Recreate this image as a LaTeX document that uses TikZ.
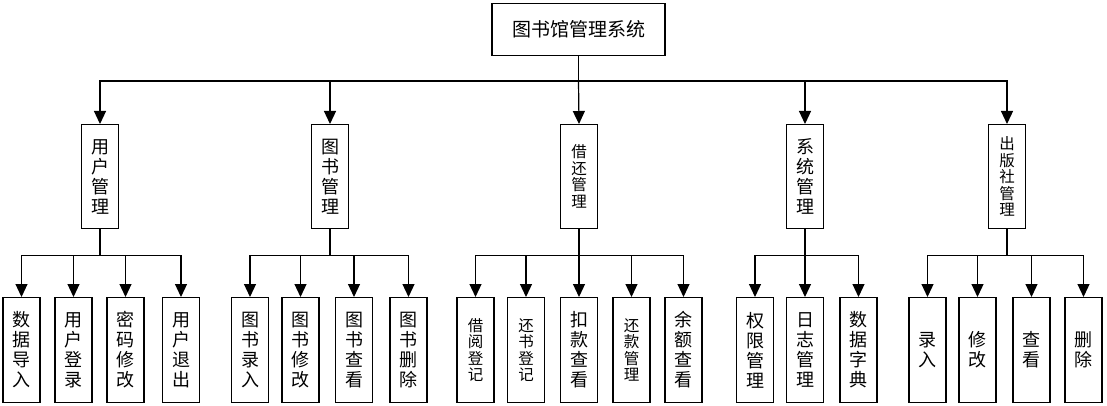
\documentclass[tikz,border=0pt]{standalone}
\usepackage{fontspec}
\setmainfont{Noto Sans CJK SC}
\usetikzlibrary{arrows.meta}
\tikzset{
  box/.style={draw,line width=1.1pt,inner sep=0pt,minimum width=37pt,align=center,anchor=north},
  midbox/.style={box,minimum height=104pt},
  leafbox/.style={box,minimum height=105pt},
  big/.style={font=\fontsize{18}{20}\selectfont},
  small/.style={font=\fontsize{15.5}{16.5}\selectfont}
}
\begin{document}
\begin{tikzpicture}[x=1pt,y=-1pt,line width=1.2pt,>={Triangle[width=12pt,length=13pt]}]
  \useasboundingbox (0,0) rectangle (1107,406);
  % top
  \node[draw,line width=1.1pt,minimum width=173pt,minimum height=52pt,inner sep=0pt,anchor=north,font=\fontsize{19}{21}\selectfont] (root) at (578.5,3) {图书馆管理系统};
  \coordinate (bus0) at (578.5,81);
  % second level
  \node[midbox,big] (user) at (100,124) {用\\户\\管\\理};
  \node[midbox,big] (book) at (330,124) {图\\书\\管\\理};
  \node[midbox,small] (lend) at (579,124) {借\\还\\管\\理};
  \node[midbox,big] (sys) at (805,124) {系\\统\\管\\理};
  \node[midbox,small] (pub) at (1007,124) {出\\版\\社\\管\\理};
  \draw (root.south) -- (bus0);
  \draw[->] (bus0) -| (user.north);
  \draw[->] (bus0) -| (book.north);
  \draw[->] (bus0) -- (lend.north);
  \draw[->] (bus0) -| (sys.north);
  \draw[->] (bus0) -| (pub.north);
  % leaves: user
  \node[leafbox,big] (u1) at (21.5,297) {数\\据\\导\\入};
  \node[leafbox,big] (u2) at (73.5,297) {用\\户\\登\\录};
  \node[leafbox,big] (u3) at (125.5,297) {密\\码\\修\\改};
  \node[leafbox,big] (u4) at (181,297) {用\\户\\退\\出};
  \draw (user.south) -- ++(0,26) coordinate (bus1);
  \foreach \n in {u1,u2,u3,u4} \draw[->] (bus1) -| (\n.north);
  % leaves: book
  \node[leafbox,big] (b1) at (250,297) {图\\书\\录\\入};
  \node[leafbox,big] (b2) at (300.5,297) {图\\书\\修\\改};
  \node[leafbox,big] (b3) at (354,297) {图\\书\\查\\看};
  \node[leafbox,big] (b4) at (408.5,297) {图\\书\\删\\除};
  \draw (book.south) -- ++(0,26) coordinate (bus2);
  \foreach \n in {b1,b2,b3,b4} \draw[->] (bus2) -| (\n.north);
  % leaves: lend
  \node[leafbox,small] (l1) at (475.5,297) {借\\阅\\登\\记};
  \node[leafbox,small] (l2) at (526,297) {还\\书\\登\\记};
  \node[leafbox,big] (l3) at (579,297) {扣\\款\\查\\看};
  \node[leafbox,small] (l4) at (631.5,297) {还\\款\\管\\理};
  \node[leafbox,big] (l5) at (683.5,297) {余\\额\\查\\看};
  \draw (lend.south) -- ++(0,26) coordinate (bus3);
  \foreach \n in {l1,l2,l3,l4,l5} \draw[->] (bus3) -| (\n.north);
  % leaves: sys
  \node[leafbox,big] (s1) at (755,297) {权\\限\\管\\理};
  \node[leafbox,big] (s2) at (805,297) {日\\志\\管\\理};
  \node[leafbox,big] (s3) at (858.5,297) {数\\据\\字\\典};
  \draw (sys.south) -- ++(0,26) coordinate (bus4);
  \foreach \n in {s1,s2,s3} \draw[->] (bus4) -| (\n.north);
  % leaves: pub
  \node[leafbox,big] (p1) at (927.5,297) {录\\入};
  \node[leafbox,big] (p2) at (977.5,297) {修\\改};
  \node[leafbox,big] (p3) at (1031.5,297) {查\\看};
  \node[leafbox,big] (p4) at (1083.5,297) {删\\除};
  \draw (pub.south) -- ++(0,26) coordinate (bus5);
  \foreach \n in {p1,p2,p3,p4} \draw[->] (bus5) -| (\n.north);
\end{tikzpicture}
\end{document}
